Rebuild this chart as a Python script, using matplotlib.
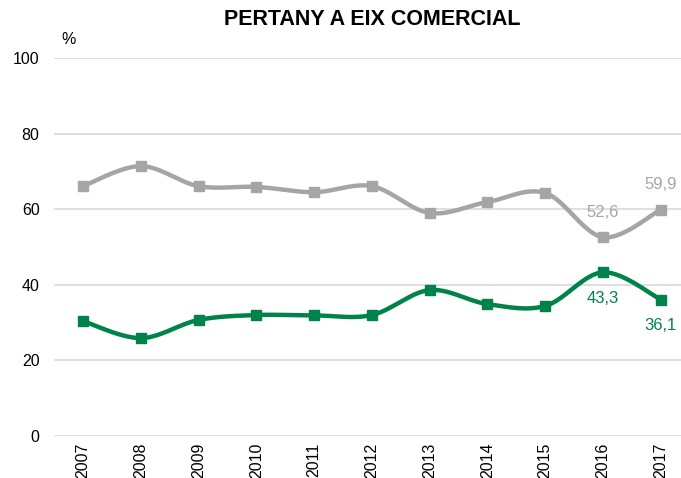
import numpy as np
import matplotlib.pyplot as plt

plt.rcParams['font.family'] = ['Liberation Sans', 'DejaVu Sans']

years = ['2007', '2008', '2009', '2010', '2011', '2012', '2013', '2014', '2015', '2016', '2017']
no_pertany = [66.1, 71.4, 66.1, 65.9, 64.5, 66.1, 59.0, 61.9, 64.3, 52.6, 59.9]
pertany = [30.4, 25.9, 30.7, 32.0, 31.9, 32.0, 38.6, 34.9, 34.4, 43.3, 36.1]

grey = '#a5a5a5'
green = '#00834a'


def smooth(x, y, n=30):
    # excel style smoothed line: cubic bezier between points
    x = np.asarray(x, float)
    y = np.asarray(y, float)
    px = np.concatenate([[x[0]], x, [x[-1]]])
    py = np.concatenate([[y[0]], y, [y[-1]]])
    t = np.linspace(0, 1, n)[:, None]
    out_x, out_y = [], []
    for i in range(len(x) - 1):
        p0 = np.array([x[i], y[i]])
        p3 = np.array([x[i + 1], y[i + 1]])
        p1 = p0 + (np.array([px[i + 2], py[i + 2]]) - np.array([px[i], py[i]])) / 6
        p2 = p3 - (np.array([px[i + 3], py[i + 3]]) - np.array([px[i + 1], py[i + 1]])) / 6
        pts = ((1 - t) ** 3) * p0 + 3 * ((1 - t) ** 2) * t * p1 + 3 * (1 - t) * t ** 2 * p2 + t ** 3 * p3
        out_x.extend(pts[:, 0])
        out_y.extend(pts[:, 1])
    return out_x, out_y


fig = plt.figure(figsize=(6.81, 4.78), dpi=100)
ax = fig.add_axes([53.5 / 681, 1 - 436 / 478, 1 - 53.5 / 681, (436 - 58) / 478])

xs = np.arange(len(years))
for vals, col in [(no_pertany, grey), (pertany, green)]:
    sx, sy = smooth(xs, vals)
    ax.plot(sx, sy, color=col, lw=3.2, solid_capstyle='round', zorder=3)
    ax.plot(xs, vals, ls='none', marker='s', ms=7.8, color=col, zorder=4)

# data labels on the last two years
for i in [9, 10]:
    ax.annotate(f'{no_pertany[i]:.1f}'.replace('.', ','), (xs[i], no_pertany[i]),
                xytext=(0, 18), textcoords='offset points', ha='center', va='center',
                color=grey, fontsize=12)
    ax.annotate(f'{pertany[i]:.1f}'.replace('.', ','), (xs[i], pertany[i]),
                xytext=(0, -19), textcoords='offset points', ha='center', va='center',
                color=green, fontsize=12)

ax.set_xlim(-0.51, 10.35)
ax.set_ylim(0, 100)
ax.set_yticks([0, 20, 40, 60, 80, 100])
ax.set_xticks(xs)
ax.set_xticklabels(years, rotation=90)
ax.tick_params(axis='both', length=0, labelsize=11.5)
ax.tick_params(axis='y', pad=10)
ax.tick_params(axis='x', pad=5)
ax.grid(axis='y', color='#d9d9d9', lw=1.2)
ax.set_axisbelow(True)
for s in ax.spines.values():
    s.set_visible(False)

fig.text(372 / 681, 1 - 19.5 / 478, 'PERTANY A EIX COMERCIAL', ha='center', va='center',
         fontsize=15.5, fontweight='bold')
fig.text(69 / 681, 1 - 39 / 478, '%', ha='center', va='center', fontsize=11.5)

fig.savefig('out.png', dpi=100)
